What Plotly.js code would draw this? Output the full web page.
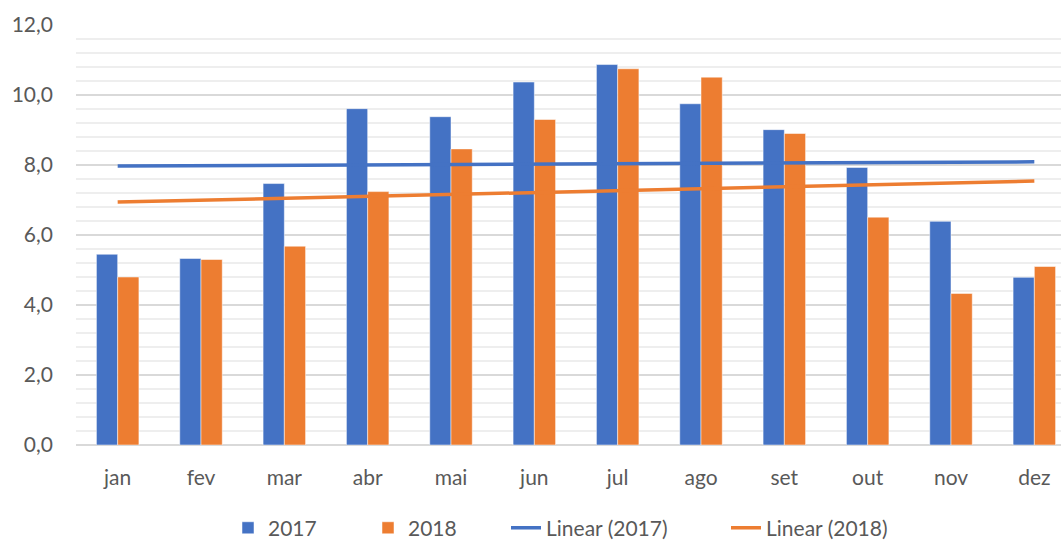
<!DOCTYPE html>
<html>
<head>
<meta charset="utf-8">
<script src="https://cdn.plot.ly/plotly-3.0.1.min.js"></script>
<style>
  html, body { margin: 0; padding: 0; background: #fff; }
  #chart { width: 1061px; height: 540px; }
</style>
</head>
<body>
<div id="chart"></div>
<script>
const months = ["jan", "fev", "mar", "abr", "mai", "jun", "jul", "ago", "set", "out", "nov", "dez"];
const values2017 = [5.45, 5.33, 7.47, 9.61, 9.38, 10.37, 10.87, 9.75, 9.01, 7.93, 6.39, 4.79];
const values2018 = [4.80, 5.30, 5.68, 7.24, 8.46, 9.30, 10.75, 10.51, 8.90, 6.51, 4.33, 5.10];
const trendMonths = ["jan", "dez"];
const trend2017 = [7.97, 8.09];
const trend2018 = [6.94, 7.54];

const blue = "#4472C4";
const orange = "#ED7D31";
const textColor = "#595959";
const font = "Lato, 'Open Sans', sans-serif";

const data = [
  { type: "bar", name: "2017", x: months, y: values2017, legend: "legend",
    marker: { color: blue, line: { color: "#ffffff", width: 0.5 } } },
  { type: "bar", name: "2018", x: months, y: values2018, legend: "legend",
    marker: { color: orange, line: { color: "#ffffff", width: 0.5 } } },
  { type: "scatter", mode: "lines", name: "Linear (2017)", x: trendMonths, y: trend2017, legend: "legend2",
    line: { color: blue, width: 3.5 } },
  { type: "scatter", mode: "lines", name: "Linear (2018)", x: trendMonths, y: trend2018, legend: "legend2",
    line: { color: orange, width: 3.5 } }
];

const legendBase = {
  orientation: "h", xref: "container", xanchor: "left",
  yref: "container", y: 0.022, yanchor: "middle",
  font: { family: font, size: 21, color: textColor }, traceorder: "normal",
  itemwidth: 30, bgcolor: "rgba(0,0,0,0)"
};

const layout = {
  width: 1061, height: 540,
  margin: { l: 76, r: 0, t: 25, b: 95 },
  paper_bgcolor: "#ffffff", plot_bgcolor: "#ffffff",
  separators: ",.",
  font: { family: font, size: 21, color: textColor },
  barmode: "group", bargap: 0.49, bargroupgap: 0,
  showlegend: true,
  legend: Object.assign({}, legendBase, { x: 228 / 1061, entrywidth: 95 }),
  legend2: Object.assign({}, legendBase, { x: 506 / 1061, entrywidth: 175 }),
  xaxis: {
    type: "category", categoryarray: months, range: [-0.5, 11.32],
    showgrid: false, zeroline: false, showline: false, ticks: "",
    ticklabelstandoff: 18,
    tickfont: { family: font, size: 21, color: textColor }
  },
  yaxis: {
    range: [0, 12], dtick: 2, tick0: 0, tickformat: ".1f",
    showgrid: true, gridcolor: "#d9d9d9", gridwidth: 1.3,
    zeroline: true, zerolinecolor: "#d9d9d9", zerolinewidth: 1.5,
    showline: false, ticks: "", ticklen: 0,
    ticklabelstandoff: 22,
    tickfont: { family: font, size: 21, color: textColor },
    minor: { dtick: 0.4, tick0: 0, showgrid: true, gridcolor: "#eeeeee", gridwidth: 1.3 }
  }
};

Plotly.newPlot("chart", data, layout, { displayModeBar: false, staticPlot: true });
</script>
</body>
</html>
